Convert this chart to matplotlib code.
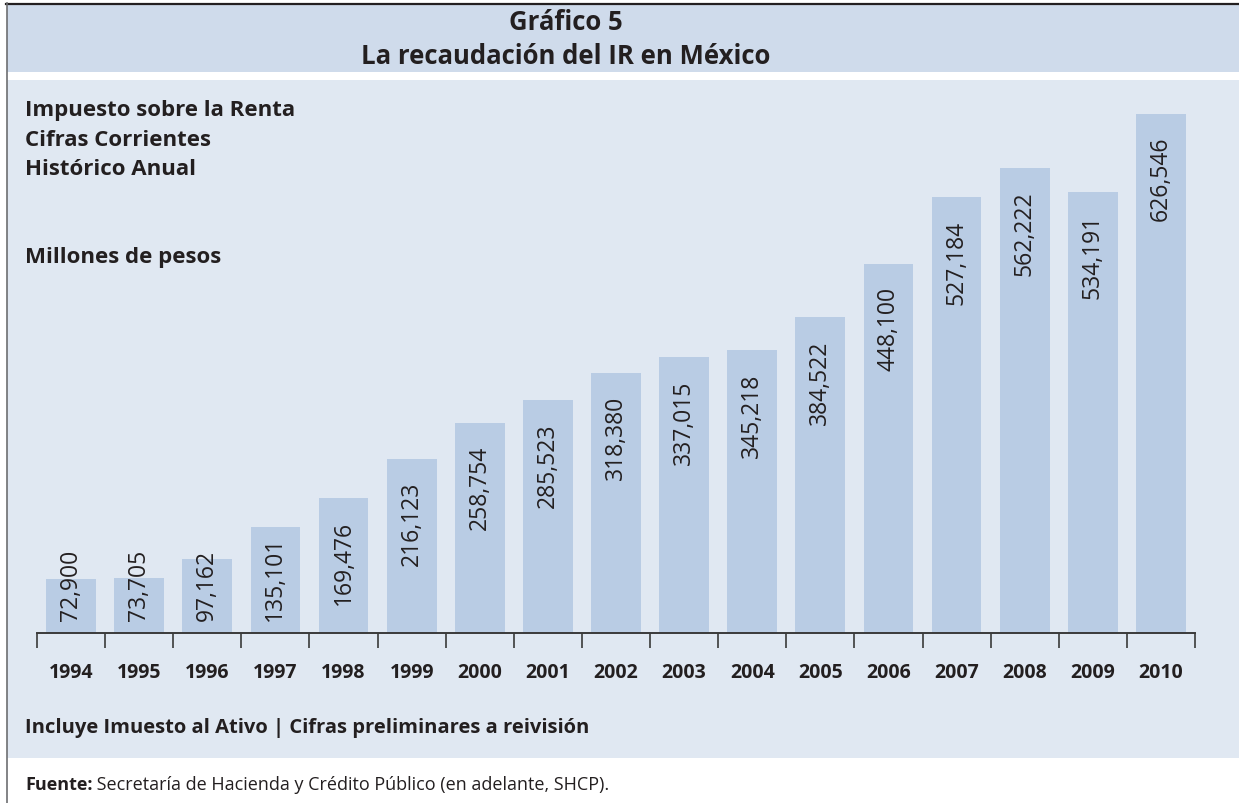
import matplotlib.pyplot as plt
from matplotlib.patches import Rectangle

# datos del grafico
anios = ["1994", "1995", "1996", "1997", "1998", "1999", "2000", "2001", "2002",
         "2003", "2004", "2005", "2006", "2007", "2008", "2009", "2010"]
recaudacion = [72900, 73705, 97162, 135101, 169476, 216123, 258754, 285523, 318380,
               337015, 345218, 384522, 448100, 527184, 562222, 534191, 626546]

titulo1 = "Gráfico 5"
titulo2 = "La recaudación del IR en México"
subtitulos = ["Impuesto sobre la Renta", "Cifras Corrientes", "Histórico Anual"]
unidades = "Millones de pesos"
nota = "Incluye Imuesto al Ativo | Cifras preliminares a reivisión"
fuente_neg = "Fuente:"
fuente_txt = " Secretaría de Hacienda y Crédito Público (en adelante, SHCP)."

# colores
c_header = "#cfdbeb"
c_panel = "#e0e8f2"
c_barra = "#b9cce4"
c_texto = "#231f20"

fuente = "Open Sans"

W, H = 1239, 804
fig = plt.figure(figsize=(W / 100, H / 100), dpi=100)
fig.patch.set_facecolor("white")

# fondo en coordenadas de pixel
bg = fig.add_axes([0, 0, 1, 1])
bg.set_xlim(0, W)
bg.set_ylim(H, 0)
bg.axis("off")
bg.add_patch(Rectangle((7, 4), W - 7, 69, color=c_header, lw=0))
bg.add_patch(Rectangle((7, 81), W - 7, 678, color=c_panel, lw=0))
bg.plot([6, W], [4.5, 4.5], color=c_texto, lw=1.6)
bg.plot([6.5, 6.5], [4, H], color="#6d6e71", lw=1.2)

bg.text(566, 30, titulo1, ha="center", va="baseline", fontsize=18.5,
        fontweight="bold", family=fuente, color=c_texto)
bg.text(566, 64, titulo2, ha="center", va="baseline", fontsize=18.5,
        fontweight="bold", family=fuente, color=c_texto)
for i, s in enumerate(subtitulos):
    bg.text(25, 116 + i * 29.5, s, ha="left", va="baseline", fontsize=16,
            fontweight="bold", family=fuente, color=c_texto)
bg.text(25, 263, unidades, ha="left", va="baseline", fontsize=16,
        fontweight="bold", family=fuente, color=c_texto)
bg.text(25, 733, nota, ha="left", va="baseline", fontsize=14.5,
        fontweight="bold", family=fuente, color=c_texto)
t = bg.text(25, 790, fuente_neg, ha="left", va="baseline", fontsize=13,
            fontweight="bold", family=fuente, color=c_texto)
bg.annotate(fuente_txt, xycoords=t, xy=(1, 0), va="bottom", ha="left",
            fontsize=13, family=fuente, color=c_texto)

# grafico de barras
ax_top, ax_bot = 100, 634
ax = fig.add_axes([37 / W, (H - ax_bot) / H, (1195 - 37) / W, (ax_bot - ax_top) / H])
ax.patch.set_alpha(0)
x = list(range(len(anios)))
ax.bar(x, recaudacion, width=0.73, color=c_barra, zorder=2)
ax.set_xlim(-0.5, len(anios) - 0.5)
ymin, ymax = 8600, 644400
ax.set_ylim(ymin, ymax)

for s in ["top", "right", "left"]:
    ax.spines[s].set_visible(False)
ax.spines["bottom"].set_color("#3a3a3a")
ax.spines["bottom"].set_linewidth(1.4)
ax.set_yticks([])
ax.set_xticks(x)
ax.set_xticklabels(anios, fontsize=14, fontweight="bold", family=fuente, color=c_texto)
ax.set_xticks([i - 0.5 for i in range(len(anios) + 1)], minor=True)
ax.tick_params(axis="x", which="major", length=0, pad=21)
ax.tick_params(axis="x", which="minor", length=11, width=1.2, color="#3a3a3a")

# etiquetas de valores
px_por_valor = (ax_bot - ax_top) / (ymax - ymin)
for xi, v in zip(x, recaudacion):
    etiqueta = f"{v:,}"
    alto_px = (v - ymin) * px_por_valor
    largo_px = 12.2 * len(etiqueta)
    if alto_px - 22 - largo_px < 13:
        ax.annotate(etiqueta, (xi, ymin), xytext=(0, 13 * 0.72), textcoords="offset points",
                    rotation=90, ha="center", va="bottom", fontsize=16.5,
                    family=fuente, color=c_texto, zorder=3)
    else:
        ax.annotate(etiqueta, (xi, v), xytext=(0, -22 * 0.72), textcoords="offset points",
                    rotation=90, ha="center", va="top", fontsize=16.5,
                    family=fuente, color=c_texto, zorder=3)

fig.savefig("out.png", dpi=100)
